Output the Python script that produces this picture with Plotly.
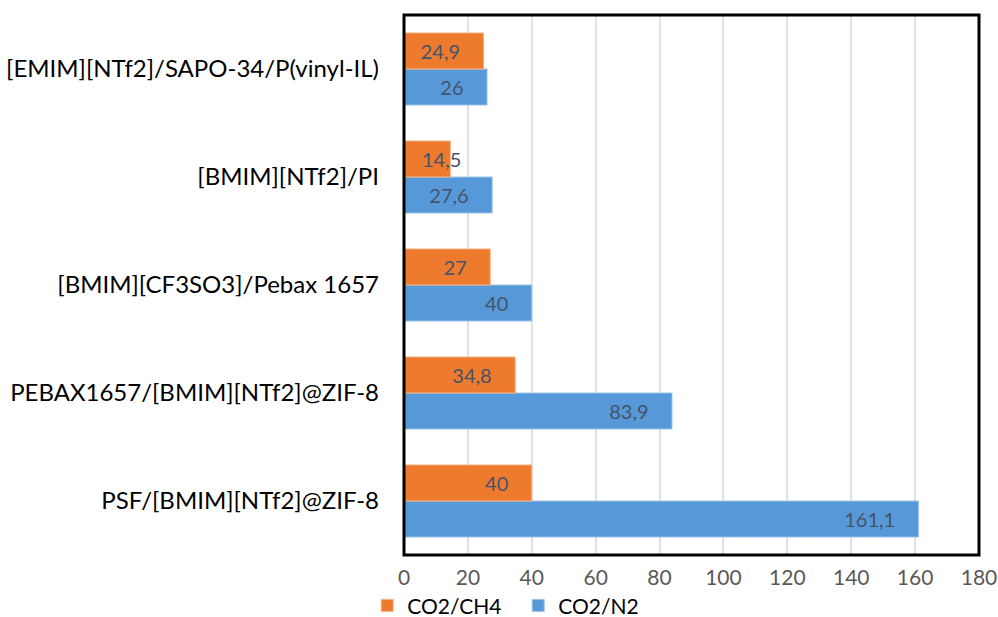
import plotly.graph_objects as go

# Membrane systems (bottom to top) and their ideal selectivities
membranes = [
    "PSF/[BMIM][NTf2]@ZIF-8",
    "PEBAX1657/[BMIM][NTf2]@ZIF-8",
    "[BMIM][CF3SO3]/Pebax 1657",
    "[BMIM][NTf2]/PI",
    "[EMIM][NTf2]/SAPO-34/P(vinyl-IL)",
]
co2_ch4 = [40, 34.8, 27, 14.5, 24.9]
co2_n2 = [161.1, 83.9, 40, 27.6, 26]
x_ticks = [0, 20, 40, 60, 80, 100, 120, 140, 160, 180]

FONT = "Lato"
LABEL_COLOR = "#44546A"
label_font = dict(family=FONT, size=20, color=LABEL_COLOR)
PAD = "\u00a0" * 4  # keeps value labels away from the bar end
SHORT = 20          # bars shorter than this get their label pinned near the axis


def label_text(v):
    return f"{v}".replace(".", ",")


ch4_pos = ["none" if v < SHORT else "inside" for v in co2_ch4]
n2_pos = ["none" if v < SHORT else "inside" for v in co2_n2]

fig = go.Figure()
fig.add_trace(go.Bar(
    y=membranes, x=co2_n2, orientation="h", name="CO2/N2",
    marker=dict(color="#5799D8", line=dict(color="#9DC3E6", width=1)),
    texttemplate="%{x}" + PAD, textposition=n2_pos, constraintext="none",
    insidetextanchor="end", textfont=label_font, legendrank=2,
))
fig.add_trace(go.Bar(
    y=membranes, x=co2_ch4, orientation="h", name="CO2/CH4",
    marker=dict(color="#EE7A2E", line=dict(color="#F4B183", width=1)),
    texttemplate="%{x}" + PAD, textposition=ch4_pos, constraintext="none",
    insidetextanchor="end", textfont=label_font, legendrank=1,
))

# labels of short bars sit a fixed distance from the axis
annotations = []
for series, shift in ((co2_ch4, 18), (co2_n2, -18)):
    for cat, v in zip(membranes, series):
        if v < SHORT:
            annotations.append(dict(
                x=0, y=cat, xref="x", yref="y", text=label_text(v),
                showarrow=False, xanchor="left", xshift=16, yshift=shift,
                font=label_font,
            ))

fig.update_layout(
    width=998, height=617,
    margin=dict(l=404, r=19, t=15, b=62, autoexpand=False),
    paper_bgcolor="white", plot_bgcolor="white",
    separators=", ",
    barmode="group", bargap=0.333, bargroupgap=0,
    showlegend=True,
    legend=dict(orientation="h", x=-0.064, y=-0.056, xanchor="left", yanchor="top",
                font=dict(family=FONT, size=21, color="#000000"),
                itemwidth=30, entrywidth=106, tracegroupgap=0,
                bgcolor="rgba(0,0,0,0)"),
    xaxis=dict(range=[0, 180], tickvals=x_ticks, showgrid=True, gridcolor="#DDE1EA",
               gridwidth=1.5, zeroline=False, showline=False, automargin=False,
               ticklabelstandoff=8, ticklabeloverflow="allow",
               tickfont=dict(family=FONT, size=21, color="#595959")),
    yaxis=dict(showgrid=False, zeroline=False, showline=False, ticks="",
               ticklabelstandoff=24, automargin=False,
               tickfont=dict(family=FONT, size=24, color="#000000")),
    annotations=annotations,
    shapes=[dict(type="rect", xref="paper", yref="paper", x0=0, x1=1, y0=0, y1=1,
                 line=dict(color="black", width=3))],
)

fig.write_html("out.html")
